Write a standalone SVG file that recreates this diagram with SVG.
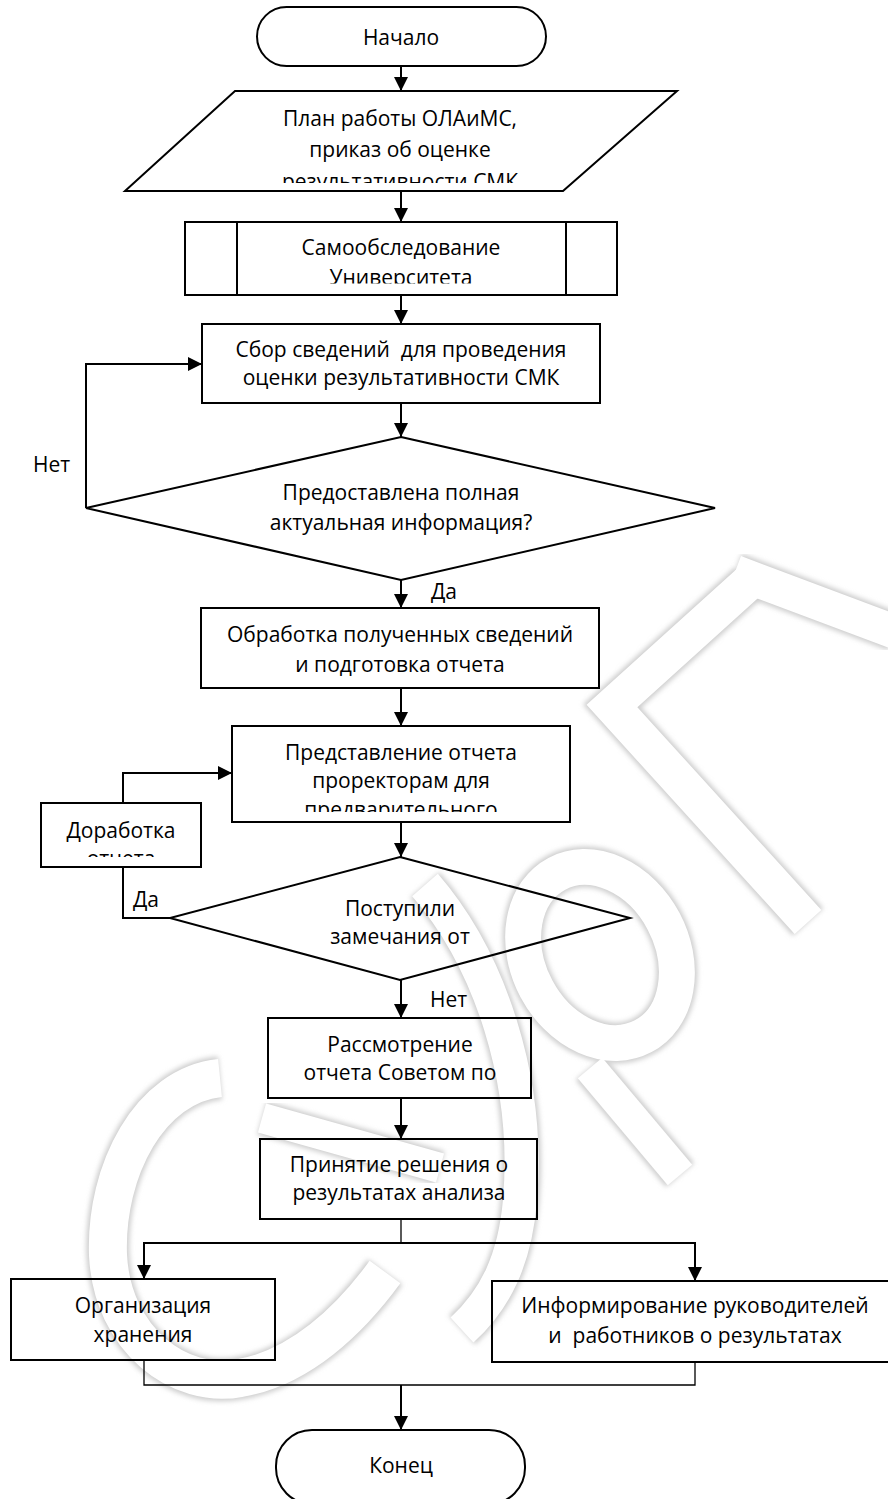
<svg xmlns="http://www.w3.org/2000/svg" xmlns:xlink="http://www.w3.org/1999/xlink" width="888" height="1499" viewBox="0 0 888 1499">
<defs>
<style>
.n{fill:none;stroke:#000;stroke-width:2}
.c{fill:none;stroke:#000;stroke-width:2}
.ct{fill:none;stroke:#000;stroke-width:1.3}
text{font-family:"Open Sans","Noto Sans","DejaVu Sans",sans-serif;font-size:21px;fill:#000;text-anchor:middle}
.l{text-anchor:start}
.pre{white-space:pre}
.wmS{fill:none;stroke:#cdcdcd;filter:url(#bl)}
.wmW{fill:none;stroke:#fff}
</style>
<filter id="bl" x="-30%" y="-30%" width="160%" height="160%"><feGaussianBlur stdDeviation="2.6"/></filter>
<marker id="ah" viewBox="0 0 10 10" refX="10" refY="5" markerWidth="14" markerHeight="14" markerUnits="userSpaceOnUse" orient="auto"><path d="M0,0 L10,5 L0,10 z" fill="#000"/></marker>
<clipPath id="cpPar"><rect x="120" y="91" width="570" height="92"/></clipPath>
<clipPath id="cpSam"><rect x="237" y="222" width="329" height="61.5"/></clipPath>
<clipPath id="cpPred"><rect x="232" y="726" width="338" height="86"/></clipPath>
<clipPath id="cpDor"><rect x="41" y="803" width="160" height="54"/></clipPath>
<path id="w1" d="M220,1078 C150,1085 105,1170 108,1255 C112,1340 180,1390 240,1378 C300,1368 350,1320 385,1272"/>
<path id="w2" d="M425,885 C490,960 530,1080 520,1200 C515,1260 495,1300 462,1330"/>
<path id="w3" d="M262,1118 L440,1168"/>
<ellipse id="w4" cx="600" cy="955" rx="72" ry="92" transform="rotate(-28 600 955)"/>
<path id="w5" d="M590,1068 L680,1175"/>
<path id="w6" d="M748,583 L612,706 L808,922"/>
<path id="w7" d="M735,572 L895,632"/>
</defs>
<rect x="0" y="0" width="888" height="1499" fill="#fff"/>
<g id="watermark">
<use xlink:href="#w1" class="wmS" style="stroke-width:43"/>
<use xlink:href="#w2" class="wmS" style="stroke-width:39"/>
<use xlink:href="#w3" class="wmS" style="stroke-width:35"/>
<use xlink:href="#w4" class="wmS" style="stroke-width:41"/>
<use xlink:href="#w5" class="wmS" style="stroke-width:37"/>
<use xlink:href="#w6" class="wmS" style="stroke-width:41"/>
<use xlink:href="#w7" class="wmS" style="stroke-width:39"/>
<use xlink:href="#w1" class="wmW" style="stroke-width:38"/>
<use xlink:href="#w2" class="wmW" style="stroke-width:34"/>
<use xlink:href="#w3" class="wmW" style="stroke-width:30"/>
<use xlink:href="#w4" class="wmW" style="stroke-width:36"/>
<use xlink:href="#w5" class="wmW" style="stroke-width:32"/>
<use xlink:href="#w6" class="wmW" style="stroke-width:36"/>
<use xlink:href="#w7" class="wmW" style="stroke-width:34"/>
</g>
<g id="connectors">
<path class="c" d="M401,66 V91" marker-end="url(#ah)"/>
<path class="c" d="M401,191 V222" marker-end="url(#ah)"/>
<path class="c" d="M401,295 V324" marker-end="url(#ah)"/>
<path class="c" d="M401,403 V437" marker-end="url(#ah)"/>
<path class="c" d="M86,508 V364 H202" marker-end="url(#ah)"/>
<path class="c" d="M401,580 V608" marker-end="url(#ah)"/>
<path class="c" d="M401,688 V726" marker-end="url(#ah)"/>
<path class="c" d="M401,822 V857" marker-end="url(#ah)"/>
<path class="c" d="M123,803 V773 H232" marker-end="url(#ah)"/>
<path class="c" d="M123,867 V918 H170"/>
<path class="c" d="M401,980 V1018" marker-end="url(#ah)"/>
<path class="c" d="M401,1098 V1139" marker-end="url(#ah)"/>
<path class="ct" d="M401,1219 V1243"/>
<path class="c" d="M401,1243 H144 V1279" marker-end="url(#ah)"/>
<path class="c" d="M401,1243 H695 V1281" marker-end="url(#ah)"/>
<path class="ct" d="M144,1360 V1385 H695 V1362"/>
<path class="c" d="M401,1385 V1430" marker-end="url(#ah)"/>
<text class="l" x="33" y="472">Нет</text>
<text class="l" x="431" y="599">Да</text>
<text class="l" x="133" y="907">Да</text>
<text class="l" x="430" y="1007">Нет</text>
</g>
<g id="start">
<rect class="n" x="257" y="7" width="289" height="59" rx="29.5"/>
<text x="401" y="45">Начало</text>
</g>
<g id="input">
<polygon class="n" points="235,91 677,91 563,191 125,191"/>
<g clip-path="url(#cpPar)">
<text x="400" y="126">План работы ОЛАиМС,</text>
<text x="400" y="157">приказ об оценке</text>
<text x="400" y="189">результативности СМК</text>
</g>
</g>
<g id="selfcheck">
<rect class="n" x="185" y="222" width="432" height="73"/>
<line class="n" x1="237" y1="222" x2="237" y2="295"/>
<line class="n" x1="566" y1="222" x2="566" y2="295"/>
<g clip-path="url(#cpSam)">
<text x="401" y="255">Самообследование</text>
<text x="401" y="285">Университета</text>
</g>
</g>
<g id="collect">
<rect class="n" x="202" y="324" width="398" height="79"/>
<text class="pre" x="401" y="357">Сбор сведений  для проведения</text>
<text x="401" y="385">оценки результативности СМК</text>
</g>
<g id="decision1">
<polygon class="n" points="401,437 715,508 401,580 86,508"/>
<text x="401" y="500">Предоставлена полная</text>
<text x="401" y="530">актуальная информация?</text>
</g>
<g id="process">
<rect class="n" x="201" y="608" width="398" height="80"/>
<text x="400" y="642">Обработка полученных сведений</text>
<text x="400" y="672">и подготовка отчета</text>
</g>
<g id="present">
<rect class="n" x="232" y="726" width="338" height="96"/>
<g clip-path="url(#cpPred)">
<text x="401" y="760">Представление отчета</text>
<text x="401" y="788">проректорам для</text>
<text x="401" y="817">предварительного</text>
</g>
</g>
<g id="rework">
<rect class="n" x="41" y="803" width="160" height="64"/>
<g clip-path="url(#cpDor)">
<text x="121" y="838">Доработка</text>
<text x="121" y="866">отчета</text>
</g>
</g>
<g id="decision2">
<polygon class="n" points="400,857 630,918 400,980 170,918"/>
<text x="400" y="916">Поступили</text>
<text x="400" y="944">замечания от</text>
</g>
<g id="council">
<rect class="n" x="268" y="1018" width="263" height="80"/>
<text x="400" y="1052">Рассмотрение</text>
<text x="400" y="1080">отчета Советом по</text>
</g>
<g id="decide">
<rect class="n" x="260" y="1139" width="277" height="80"/>
<text x="399" y="1172">Принятие решения о</text>
<text x="399" y="1200">результатах анализа</text>
</g>
<g id="storage">
<rect class="n" x="11" y="1279" width="264" height="81"/>
<text x="143" y="1313">Организация</text>
<text x="143" y="1342">хранения</text>
</g>
<g id="inform">
<rect class="n" x="492" y="1281" width="406" height="81"/>
<text x="695" y="1313">Информирование руководителей</text>
<text class="pre" x="695" y="1343">и  работников о результатах</text>
</g>
<g id="end">
<rect class="n" x="276" y="1430" width="249" height="74" rx="36"/>
<text x="401" y="1473">Конец</text>
</g>
</svg>
